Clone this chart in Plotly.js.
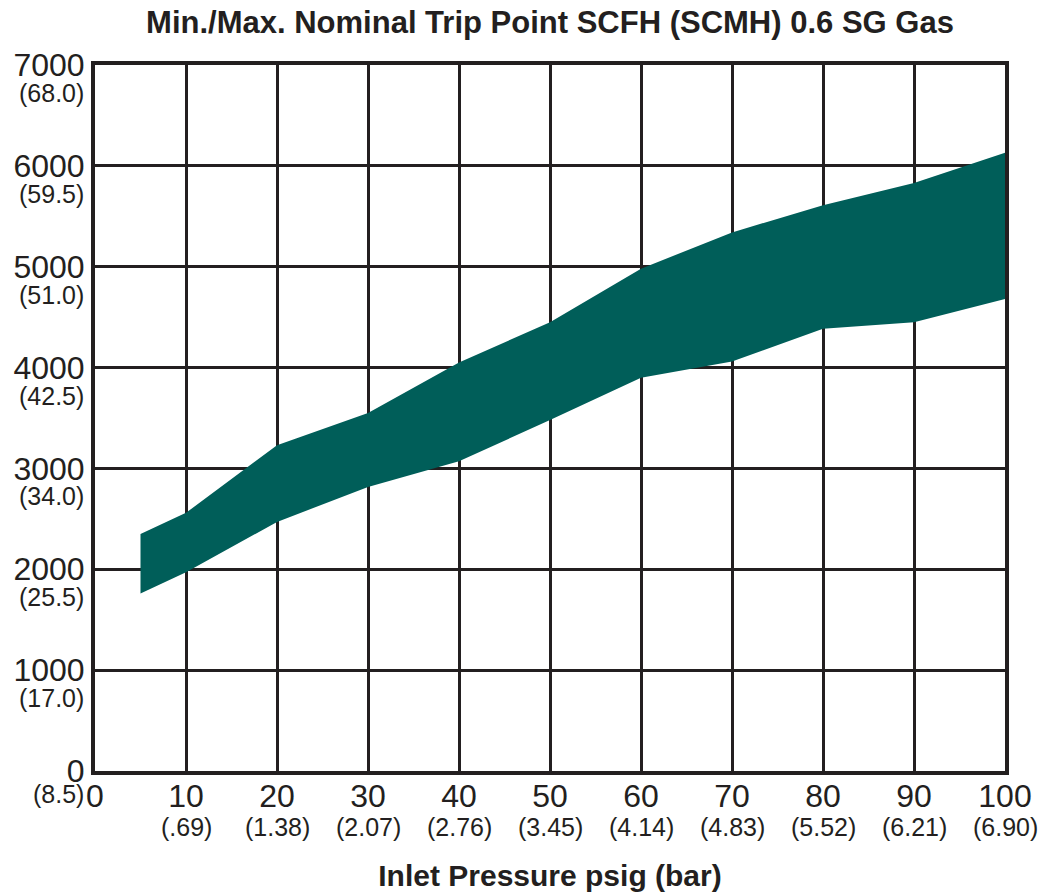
<!DOCTYPE html>
<html>
<head>
<meta charset="utf-8">
<script src="https://cdn.plot.ly/plotly-3.0.1.min.js"></script>
<style>html,body{margin:0;padding:0;background:#fff;}#chart{width:1040px;height:892px;}</style>
</head>
<body>
<div id="chart"></div>
<script>
// Data
const psig = [5, 10, 20, 30, 40, 50, 60, 70, 80, 90, 100];
const maxTripSCFH = [2350, 2560, 3230, 3550, 4050, 4450, 4980, 5340, 5610, 5830, 6130];
const minTripSCFH = [1760, 1970, 2470, 2815, 3070, 3480, 3900, 4060, 4385, 4450, 4680];

const xTickVals = [0, 10, 20, 30, 40, 50, 60, 70, 80, 90, 100];
const xTickText = ['0', '10', '20', '30', '40', '50', '60', '70', '80', '90', '100'];
const xBarLabels = ['', '(.69)', '(1.38)', '(2.07)', '(2.76)', '(3.45)', '(4.14)', '(4.83)', '(5.52)', '(6.21)', '(6.90)'];

const yTickVals = [0, 1000, 2000, 3000, 4000, 5000, 6000, 7000];
const yTickText = ['0', '1000', '2000', '3000', '4000', '5000', '6000', '7000'];
const ySCMHLabels = ['(8.5)', '(17.0)', '(25.5)', '(34.0)', '(42.5)', '(51.0)', '(59.5)', '(68.0)'];

const ink = '#231f20';
const band = '#005e59';
const fam = '"Liberation Sans", Arial, Helvetica, sans-serif';

const traces = [
  { x: psig, y: minTripSCFH, type: 'scatter', mode: 'lines', line: { width: 0, color: band }, hoverinfo: 'skip', showlegend: false },
  { x: psig, y: maxTripSCFH, type: 'scatter', mode: 'lines', fill: 'tonexty', fillcolor: band, line: { width: 0, color: band }, hoverinfo: 'skip', showlegend: false }
];

const annotations = [];
yTickVals.forEach((v, i) => {
  annotations.push({ xref: 'paper', x: 0, xanchor: 'right', xshift: -9, yref: 'y', y: v, yanchor: 'middle', yshift: (i === 0 ? -23 : -28),
    text: ySCMHLabels[i], showarrow: false, font: { family: fam, size: 25, color: ink } });
});
xTickVals.forEach((v, i) => {
  if (!xBarLabels[i]) return;
  annotations.push({ xref: 'x', x: v, xanchor: 'center', yref: 'paper', y: 0, yanchor: 'top', yshift: -40,
    text: xBarLabels[i], showarrow: false, font: { family: fam, size: 25, color: ink } });
});

const layout = {
  width: 1040, height: 892,
  margin: { l: 95, r: 35, t: 65, b: 121, pad: 0 },
  paper_bgcolor: '#fff', plot_bgcolor: '#fff',
  font: { family: fam, color: ink },
  title: { text: '<b>Min./Max. Nominal Trip Point SCFH (SCMH) 0.6 SG Gas</b>', font: { family: fam, size: 31, color: ink },
    x: 0.5, xref: 'paper', xanchor: 'center', y: 1 - 22 / 892, yref: 'container', yanchor: 'middle' },
  xaxis: {
    range: [0, 100], tickmode: 'array', tickvals: xTickVals, ticktext: xTickText,
    showgrid: true, gridcolor: ink, gridwidth: 3, zeroline: false,
    showline: true, linecolor: ink, linewidth: 4, mirror: true, ticks: '',
    ticklabelstandoff: -6,
    tickfont: { family: fam, size: 32, color: ink },
    title: { text: '<b>Inlet Pressure psig (bar)</b>', font: { family: fam, size: 30, color: ink }, standoff: 56 },
    automargin: false, fixedrange: true
  },
  yaxis: {
    range: [0, 7000], tickmode: 'array', tickvals: yTickVals, ticktext: yTickText,
    showgrid: true, gridcolor: ink, gridwidth: 3, zeroline: false,
    showline: true, linecolor: ink, linewidth: 4, mirror: true, ticks: '',
    ticklabelstandoff: 0,
    tickfont: { family: fam, size: 32, color: ink },
    automargin: false, fixedrange: true
  },
  annotations: annotations,
  showlegend: false
};

Plotly.newPlot('chart', traces, layout, { displayModeBar: false, staticPlot: true });
</script>
</body>
</html>
